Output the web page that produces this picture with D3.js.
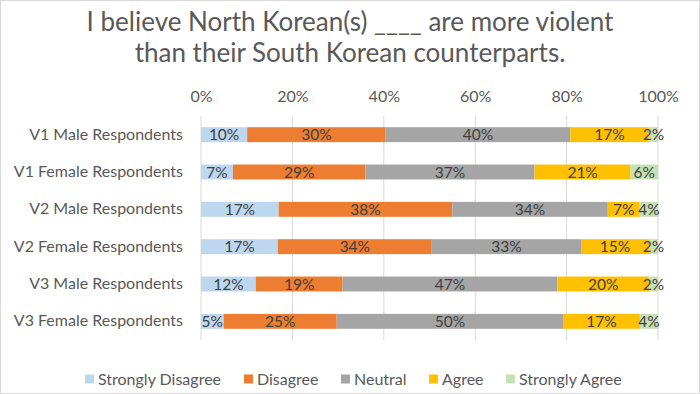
<!DOCTYPE html>
<html>
<head>
<meta charset="utf-8">
<script src="https://cdn.jsdelivr.net/npm/d3@7"></script>
<style>
  body { margin: 0; background: #fff; }
  text { font-family: Lato, "Open Sans", sans-serif; }
</style>
</head>
<body>
<div class="chart"></div>
<script>
// survey answers, % of respondents per group
var groups = ["V1 Male Respondents", "V1 Female Respondents", "V2 Male Respondents",
  "V2 Female Respondents", "V3 Male Respondents", "V3 Female Respondents"];
var answers = ["Strongly Disagree", "Disagree", "Neutral", "Agree", "Strongly Agree"];
var stronglyDisagree = [10, 7, 17, 17, 12, 5];
var disagree = [30, 29, 38, 34, 19, 25];
var neutral = [40, 37, 34, 33, 47, 50];
var agree = [17, 21, 7, 15, 20, 17];
var stronglyAgree = [2, 6, 4, 2, 2, 4];
var xTicks = [0, 0.2, 0.4, 0.6, 0.8, 1];
var colors = ["#BDD7EE", "#ED7D31", "#A5A5A5", "#FFC000", "#C5E0B4"];

var svgWidth = 700;
var svgHeight = 394;
var margin = { top: 116, right: 42, bottom: 54, left: 201 };
var width = svgWidth - margin.left - margin.right;
var height = svgHeight - margin.top - margin.bottom;

var svg = d3.select(".chart").append("svg")
  .attr("width", svgWidth)
  .attr("height", svgHeight);

svg.append("rect")
  .attr("x", 0.5).attr("y", 0.5)
  .attr("width", svgWidth - 1).attr("height", svgHeight - 1)
  .attr("fill", "#fff").attr("stroke", "#D9D9D9");

// title
var title = svg.append("text")
  .attr("text-anchor", "middle")
  .attr("fill", "#595959")
  .attr("font-size", 26);
title.append("tspan").attr("x", 350).attr("y", 31).text("I believe North Korean(s) ____ are more violent");
title.append("tspan").attr("x", 350).attr("y", 62).text("than their South Korean counterparts.");

var chartGroup = svg.append("g")
  .attr("transform", `translate(${margin.left}, ${margin.top})`);

// build rows -> stacked 100%
var series = [stronglyDisagree, disagree, neutral, agree, stronglyAgree];
var rows = groups.map(function (g, i) {
  var row = { group: g };
  answers.forEach(function (a, j) { row[a] = series[j][i]; });
  return row;
});
var stack = d3.stack().keys(answers).offset(d3.stackOffsetExpand);
var stacked = stack(rows);

var xScale = d3.scaleLinear().domain([0, 1]).range([0, width]);
var yScale = d3.scaleBand().domain(groups).range([0, height]).paddingInner(0.6).paddingOuter(0.3);

// gridlines
chartGroup.append("g")
  .selectAll("line")
  .data(xTicks)
  .enter()
  .append("line")
  .attr("x1", d => xScale(d))
  .attr("x2", d => xScale(d))
  .attr("y1", 0)
  .attr("y2", height)
  .attr("stroke", "#D9D9D9")
  .attr("stroke-width", 1);

// top axis
var topAxis = d3.axisTop(xScale).tickValues(xTicks).tickFormat(d3.format(".0%")).tickSize(0);
var xAxis = chartGroup.append("g").call(topAxis);
xAxis.select(".domain").remove();
xAxis.selectAll("text")
  .attr("fill", "#595959")
  .attr("font-size", 16)
  .attr("font-family", "Lato, sans-serif")
  .attr("y", -20)
  .attr("dy", "0.35em");

// left axis
var leftAxis = d3.axisLeft(yScale).tickSize(0).tickPadding(18);
var yAxis = chartGroup.append("g").call(leftAxis);
yAxis.select(".domain").remove();
yAxis.selectAll("text")
  .attr("fill", "#595959")
  .attr("font-size", 16)
  .attr("font-family", "Lato, sans-serif");

// bars
var layers = chartGroup.selectAll(".layer")
  .data(stacked)
  .enter()
  .append("g")
  .attr("class", "layer")
  .attr("fill", (d, i) => colors[i]);

layers.selectAll("rect")
  .data(d => d)
  .enter()
  .append("rect")
  .attr("x", d => xScale(d[0]))
  .attr("y", d => yScale(d.data.group))
  .attr("width", d => xScale(d[1]) - xScale(d[0]))
  .attr("height", yScale.bandwidth());

// data labels
layers.each(function (layer) {
  d3.select(this).selectAll("text")
    .data(layer)
    .enter()
    .append("text")
    .attr("x", d => (xScale(d[0]) + xScale(d[1])) / 2)
    .attr("y", d => yScale(d.data.group) + yScale.bandwidth() / 2)
    .attr("dy", "0.36em")
    .attr("text-anchor", "middle")
    .attr("fill", "#404040")
    .attr("font-size", 15.5)
    .text(d => d.data[layer.key] + "%");
});

// legend
var legendX = [85, 244, 341, 429, 506];
var legend = svg.append("g").attr("transform", "translate(0, 379)");
var items = legend.selectAll("g")
  .data(answers)
  .enter()
  .append("g")
  .attr("transform", (d, i) => `translate(${legendX[i]}, 0)`);
items.append("rect")
  .attr("x", 0).attr("y", -4.5)
  .attr("width", 9).attr("height", 9)
  .attr("fill", (d, i) => colors[i]);
items.append("text")
  .attr("x", 13)
  .attr("dy", "0.35em")
  .attr("fill", "#595959")
  .attr("font-size", 16)
  .text(d => d);
</script>
</body>
</html>
